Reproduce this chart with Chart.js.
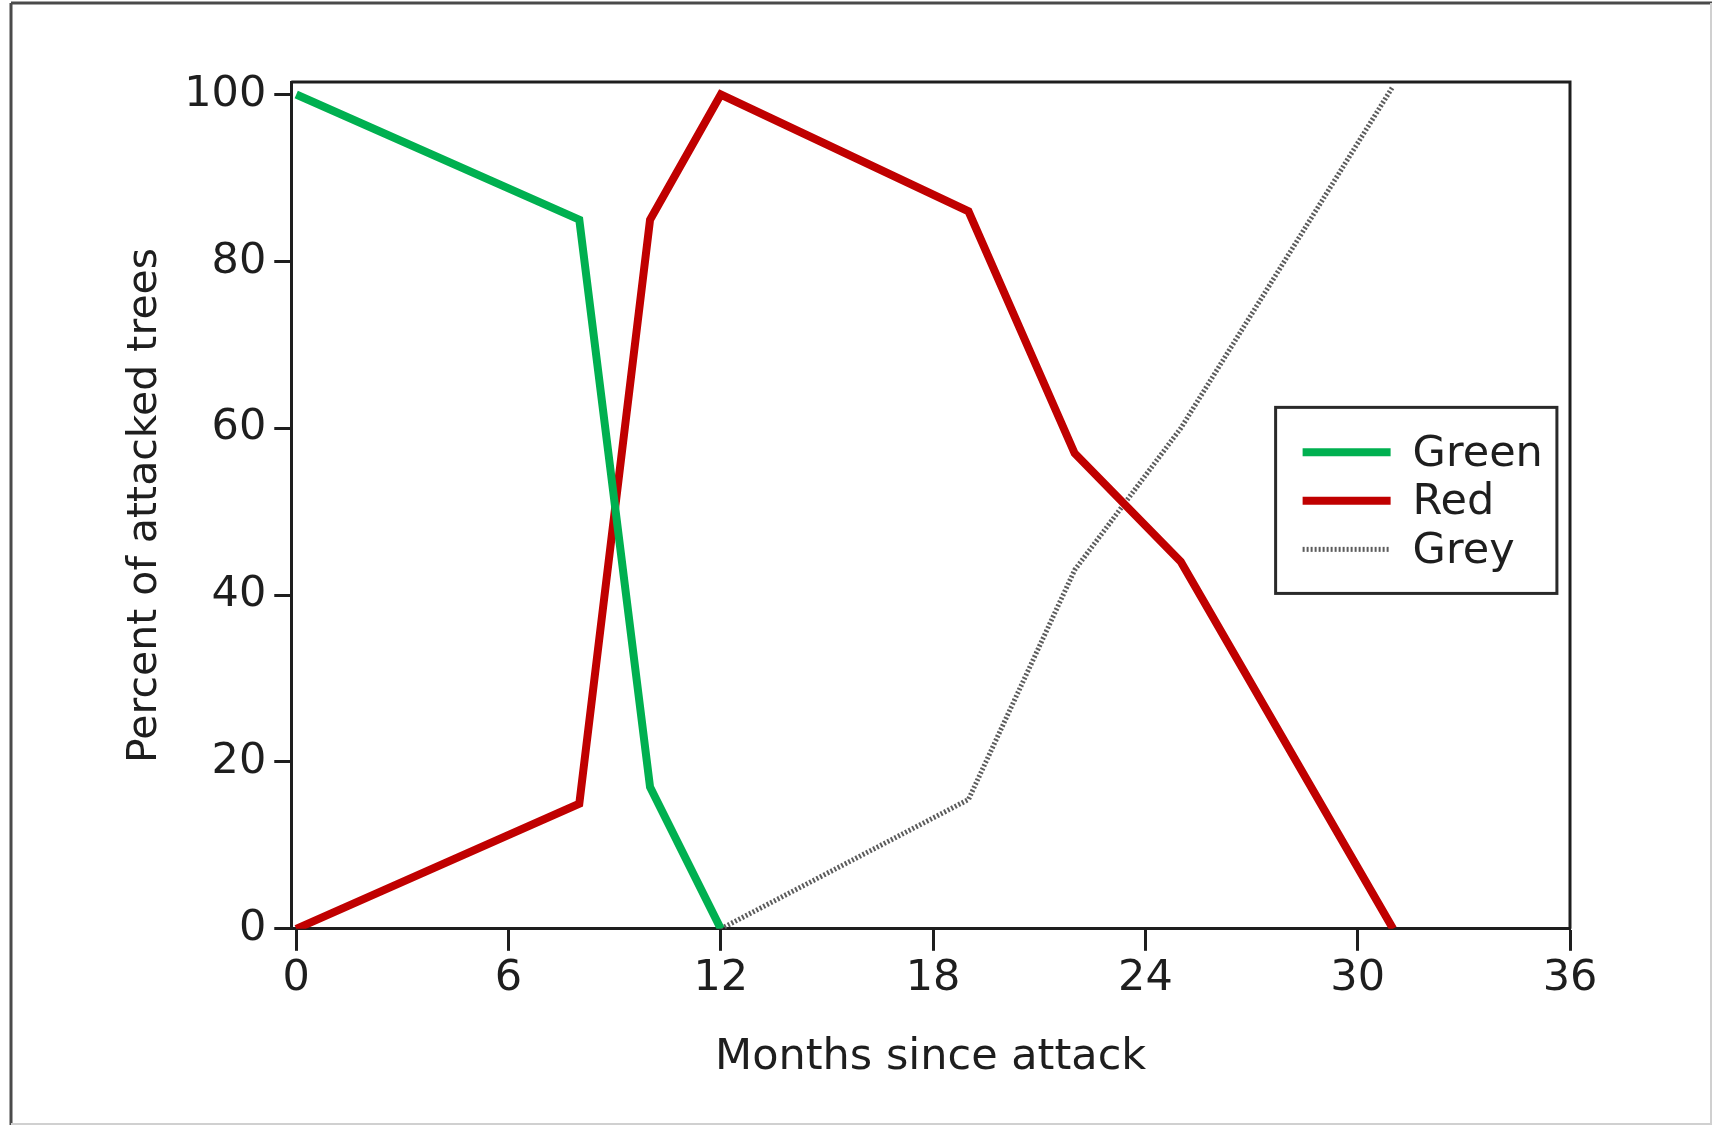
<!DOCTYPE html>
<html>
<head>
<meta charset="utf-8">
<script src="https://cdn.jsdelivr.net/npm/chart.js@4.4.1/dist/chart.umd.min.js"></script>
<style>
    html, body { margin: 0; padding: 0; background: #ffffff; }
    #chart { display: block; }
</style>
</head>
<body>
<canvas id="chart" width="1721" height="1131"></canvas>
<script>
// values
var monthsGreen = [0, 8, 10, 12];
var pctGreen = [100, 85, 17, 0];

var monthsRed = [0, 8, 10, 12, 19, 22, 25, 31];
var pctRed = [0, 15, 85, 100, 86, 57, 44, 0];

var monthsGrey = [12, 19, 22, 25, 31];
var pctGrey = [0, 15.5, 43, 60, 101];

var monthTicks = [0, 6, 12, 18, 24, 30, 36];
var pctTicks = [0, 20, 40, 60, 80, 100];

var seriesNames = ['Green', 'Red', 'Grey'];

var fontFamily = '"DejaVu Sans", "Liberation Sans", Arial, sans-serif';
var inkColor = '#1e1e1e';

function toPoints(xs, ys) {
    return xs.map((x, i) => ({x: x, y: ys[i]}));
}

// outer picture frame + top/right edges of the plot box
var framePlugin = {
    id: 'frame',
    beforeDraw: function(chart) {
        var ctx = chart.ctx;
        ctx.save();
        ctx.fillStyle = '#ffffff';
        ctx.fillRect(0, 0, chart.width, chart.height);

        ctx.lineWidth = 3;
        ctx.strokeStyle = '#4a4a4a';
        ctx.beginPath();
        ctx.moveTo(11, 3);
        ctx.lineTo(chart.width - 9, 3);
        ctx.moveTo(11, 3);
        ctx.lineTo(11, chart.height - 6);
        ctx.stroke();

        ctx.lineWidth = 2;
        ctx.strokeStyle = '#d0d0d0';
        ctx.beginPath();
        ctx.moveTo(chart.width - 10, 3);
        ctx.lineTo(chart.width - 10, chart.height - 7);
        ctx.lineTo(11, chart.height - 7);
        ctx.stroke();
        ctx.restore();
    },
    afterDatasetsDraw: function(chart) {
        var a = chart.chartArea;
        var ctx = chart.ctx;
        ctx.save();
        ctx.lineWidth = 3;
        ctx.strokeStyle = inkColor;
        ctx.beginPath();
        ctx.moveTo(a.left, a.top);
        ctx.lineTo(a.right, a.top);
        ctx.lineTo(a.right, a.bottom);
        ctx.stroke();
        ctx.restore();
    }
};

// boxed legend inside the plot, like the original figure
var boxLegendPlugin = {
    id: 'boxLegend',
    afterDraw: function(chart) {
        var xs = chart.scales.x;
        var ys = chart.scales.y;
        var left = xs.getPixelForValue(27.68);
        var right = xs.getPixelForValue(35.63);
        var top = ys.getPixelForValue(62.5);
        var bottom = ys.getPixelForValue(40.2);
        var ctx = chart.ctx;

        ctx.save();
        ctx.lineWidth = 3;
        ctx.strokeStyle = '#2a2a2a';
        ctx.strokeRect(left, top, right - left, bottom - top);

        ctx.font = '43px ' + fontFamily;
        ctx.textBaseline = 'middle';
        ctx.textAlign = 'left';
        chart.data.datasets.forEach((ds, i) => {
            var y = top + 45 + i * 48.5;
            ctx.save();
            ctx.strokeStyle = ds.borderColor;
            ctx.lineWidth = ds.borderWidth;
            ctx.setLineDash(ds.borderDash || []);
            ctx.beginPath();
            ctx.moveTo(left + 27, y);
            ctx.lineTo(left + 115, y);
            ctx.stroke();
            ctx.restore();
            ctx.fillStyle = inkColor;
            ctx.fillText(ds.label, left + 137, y + 2);
        });
        ctx.restore();
    }
};

document.addEventListener('DOMContentLoaded', function() {
    new Chart(document.getElementById('chart'), {
        type: 'line',
        data: {
            datasets: [{
                label: seriesNames[0],
                data: toPoints(monthsGreen, pctGreen),
                borderColor: '#00b050',
                borderWidth: 8,
                pointRadius: 0,
                tension: 0
            }, {
                label: seriesNames[1],
                data: toPoints(monthsRed, pctRed),
                borderColor: '#c00000',
                borderWidth: 8,
                pointRadius: 0,
                tension: 0
            }, {
                label: seriesNames[2],
                data: toPoints(monthsGrey, pctGrey),
                borderColor: '#5c5c5c',
                borderWidth: 5,
                borderDash: [2, 2],
                pointRadius: 0,
                tension: 0
            }]
        },
        options: {
            responsive: false,
            devicePixelRatio: 1,
            animation: false,
            layout: {
                padding: {left: 100, right: 151, top: 82, bottom: 37}
            },
            plugins: {
                legend: {display: false},
                tooltip: {enabled: false}
            },
            scales: {
                x: {
                    type: 'linear',
                    min: -0.14,
                    max: 36,
                    afterBuildTicks: (axis) => {
                        axis.ticks = monthTicks.map(v => ({value: v}));
                    },
                    border: {color: inkColor, width: 3},
                    grid: {
                        drawOnChartArea: false,
                        drawTicks: true,
                        tickLength: 22,
                        tickWidth: 3,
                        tickColor: inkColor
                    },
                    ticks: {
                        color: inkColor,
                        padding: 2,
                        font: {family: fontFamily, size: 43}
                    },
                    title: {
                        display: true,
                        text: 'Months since attack',
                        color: inkColor,
                        padding: {top: 26, bottom: 10},
                        font: {family: fontFamily, size: 43}
                    }
                },
                y: {
                    type: 'linear',
                    min: 0,
                    max: 101.5,
                    afterBuildTicks: (axis) => {
                        axis.ticks = pctTicks.map(v => ({value: v}));
                    },
                    border: {color: inkColor, width: 3},
                    grid: {
                        drawOnChartArea: false,
                        drawTicks: true,
                        tickLength: 17,
                        tickWidth: 3,
                        tickColor: inkColor
                    },
                    ticks: {
                        color: inkColor,
                        padding: 8,
                        font: {family: fontFamily, size: 43}
                    },
                    title: {
                        display: true,
                        text: 'Percent of attacked trees',
                        color: inkColor,
                        padding: {top: 21, bottom: 6},
                        font: {family: fontFamily, size: 41}
                    }
                }
            }
        },
        plugins: [framePlugin, boxLegendPlugin]
    });
});
</script>
</body>
</html>
